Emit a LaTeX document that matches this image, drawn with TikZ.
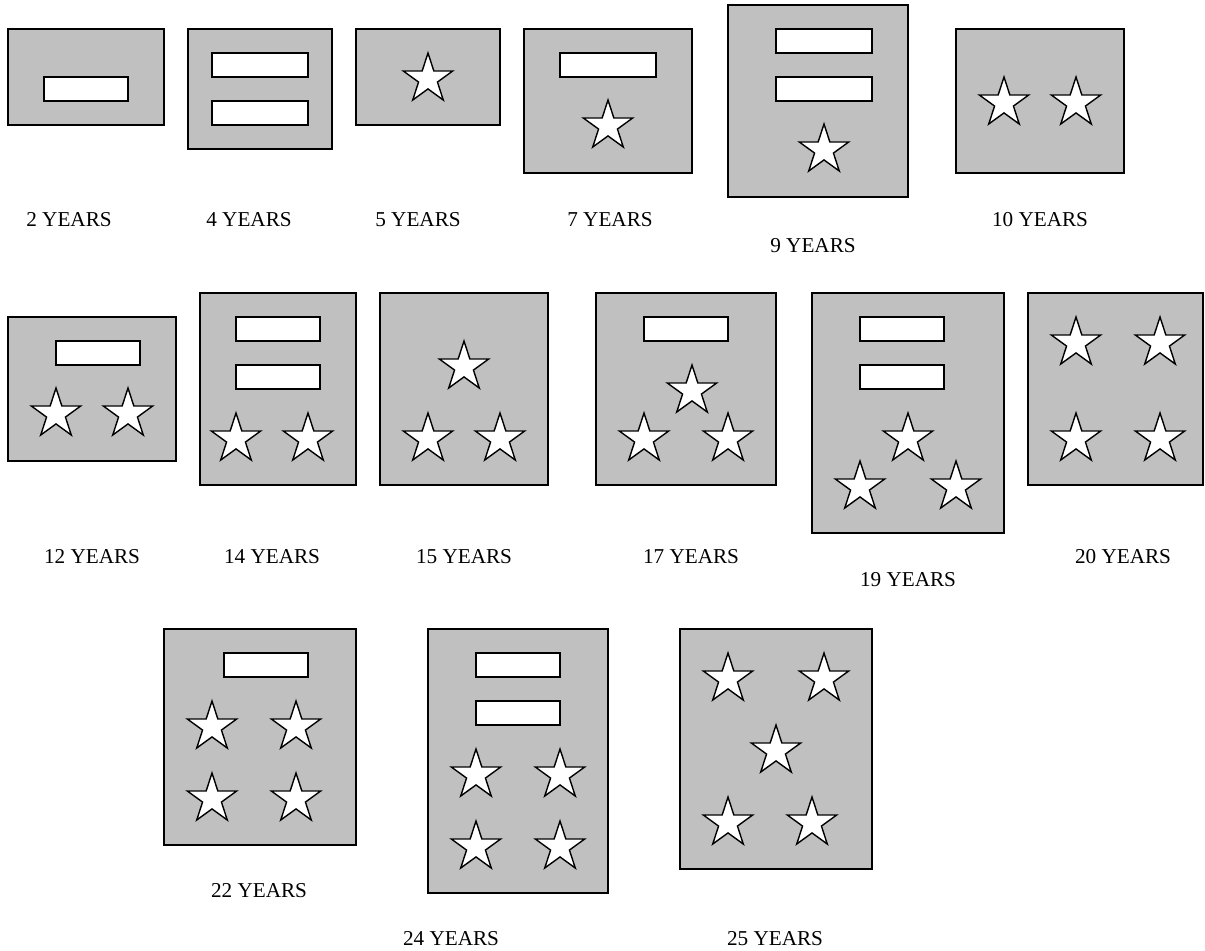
\documentclass[tikz,border=0pt]{standalone}
\usepackage{fontspec}
\setmainfont{Liberation Serif}
\usetikzlibrary{shapes.geometric}
\definecolor{plategray}{RGB}{192,192,192}
\tikzset{
  plate/.style={draw,fill=plategray,line width=1pt},
  bar/.style={draw,fill=white,line width=1pt},
  starmark/.style={star,star points=5,star point ratio=2.618,draw,fill=white,
    line width=0.7pt,minimum size=26pt,inner sep=0pt},
  yearlabel/.style={inner sep=0pt,font=\fontsize{10.6}{12}\selectfont}
}
\begin{document}
\begin{tikzpicture}[x=0.5pt,y=-0.5pt]
  \useasboundingbox (0,0) rectangle (1205,951);
  % first row
  \draw[plate] (8,29) rectangle (164,125);
  \draw[bar] (44,77) rectangle (128,101);
  \draw[plate] (188,29) rectangle (332,149);
  \draw[bar] (212,53) rectangle (308,77);
  \draw[bar] (212,101) rectangle (308,125);
  \draw[plate] (356,29) rectangle (500,125);
  \node[starmark] (s5) at (428,79) {};
  \draw[plate] (524,29) rectangle (692,173);
  \draw[bar] (560,53) rectangle (656,77);
  \node[starmark] (s7) at (608,126) {};
  \draw[plate] (728,5) rectangle (908,197);
  \draw[bar] (776,29) rectangle (872,53);
  \draw[bar] (776,77) rectangle (872,101);
  \node[starmark] (s9) at (824,150) {};
  \draw[plate] (956,29) rectangle (1124,173);
  \node[starmark] (s10a) at (1004,103) {};
  \node[starmark] (s10b) at (1076,103) {};
  \node[yearlabel] (l2) at (69,220) {2 YEARS};
  \node[yearlabel] (l4) at (249,220) {4 YEARS};
  \node[yearlabel] (l5) at (418,220) {5 YEARS};
  \node[yearlabel] (l7) at (610,220) {7 YEARS};
  \node[yearlabel] (l9) at (813,246) {9 YEARS};
  \node[yearlabel] (l10) at (1040,220) {10 YEARS};
  % second row
  \draw[plate] (8,317) rectangle (176,461);
  \draw[bar] (56,341) rectangle (140,365);
  \node[starmark] (s12a) at (56,414) {};
  \node[starmark] (s12b) at (128,414) {};
  \draw[plate] (200,293) rectangle (356,485);
  \draw[bar] (236,317) rectangle (320,341);
  \draw[bar] (236,365) rectangle (320,389);
  \node[starmark] (s14a) at (236,439) {};
  \node[starmark] (s14b) at (308,439) {};
  \draw[plate] (380,293) rectangle (548,485);
  \node[starmark] (s15a) at (464,367) {};
  \node[starmark] (s15b) at (428,439) {};
  \node[starmark] (s15c) at (500,439) {};
  \draw[plate] (596,293) rectangle (776,485);
  \draw[bar] (644,317) rectangle (728,341);
  \node[starmark] (s17a) at (692,391) {};
  \node[starmark] (s17b) at (644,439) {};
  \node[starmark] (s17c) at (728,439) {};
  \draw[plate] (812,293) rectangle (1004,533);
  \draw[bar] (860,317) rectangle (944,341);
  \draw[bar] (860,365) rectangle (944,389);
  \node[starmark] (s19a) at (908,439) {};
  \node[starmark] (s19b) at (860,487) {};
  \node[starmark] (s19c) at (956,487) {};
  \draw[plate] (1028,293) rectangle (1203,485);
  \node[starmark] (s20a) at (1076,343) {};
  \node[starmark] (s20b) at (1160,343) {};
  \node[starmark] (s20c) at (1076,439) {};
  \node[starmark] (s20d) at (1160,439) {};
  \node[yearlabel] (l12) at (92,557) {12 YEARS};
  \node[yearlabel] (l14) at (272,557) {14 YEARS};
  \node[yearlabel] (l15) at (464,557) {15 YEARS};
  \node[yearlabel] (l17) at (691,557) {17 YEARS};
  \node[yearlabel] (l19) at (908,580) {19 YEARS};
  \node[yearlabel] (l20) at (1123,557) {20 YEARS};
  % third row
  \draw[plate] (164,629) rectangle (356,845);
  \draw[bar] (224,653) rectangle (308,677);
  \node[starmark] (s22a) at (212,727) {};
  \node[starmark] (s22b) at (296,727) {};
  \node[starmark] (s22c) at (212,799) {};
  \node[starmark] (s22d) at (296,799) {};
  \draw[plate] (428,629) rectangle (608,893);
  \draw[bar] (476,653) rectangle (560,677);
  \draw[bar] (476,701) rectangle (560,725);
  \node[starmark] (s24a) at (476,775) {};
  \node[starmark] (s24b) at (560,775) {};
  \node[starmark] (s24c) at (476,847) {};
  \node[starmark] (s24d) at (560,847) {};
  \draw[plate] (680,629) rectangle (872,869);
  \node[starmark] (s25a) at (728,679) {};
  \node[starmark] (s25b) at (824,679) {};
  \node[starmark] (s25c) at (776,751) {};
  \node[starmark] (s25d) at (728,823) {};
  \node[starmark] (s25e) at (812,823) {};
  \node[yearlabel] (l22) at (259,891) {22 YEARS};
  \node[yearlabel] (l24) at (451,939) {24 YEARS};
  \node[yearlabel] (l25) at (775,939) {25 YEARS};
\end{tikzpicture}
\end{document}
